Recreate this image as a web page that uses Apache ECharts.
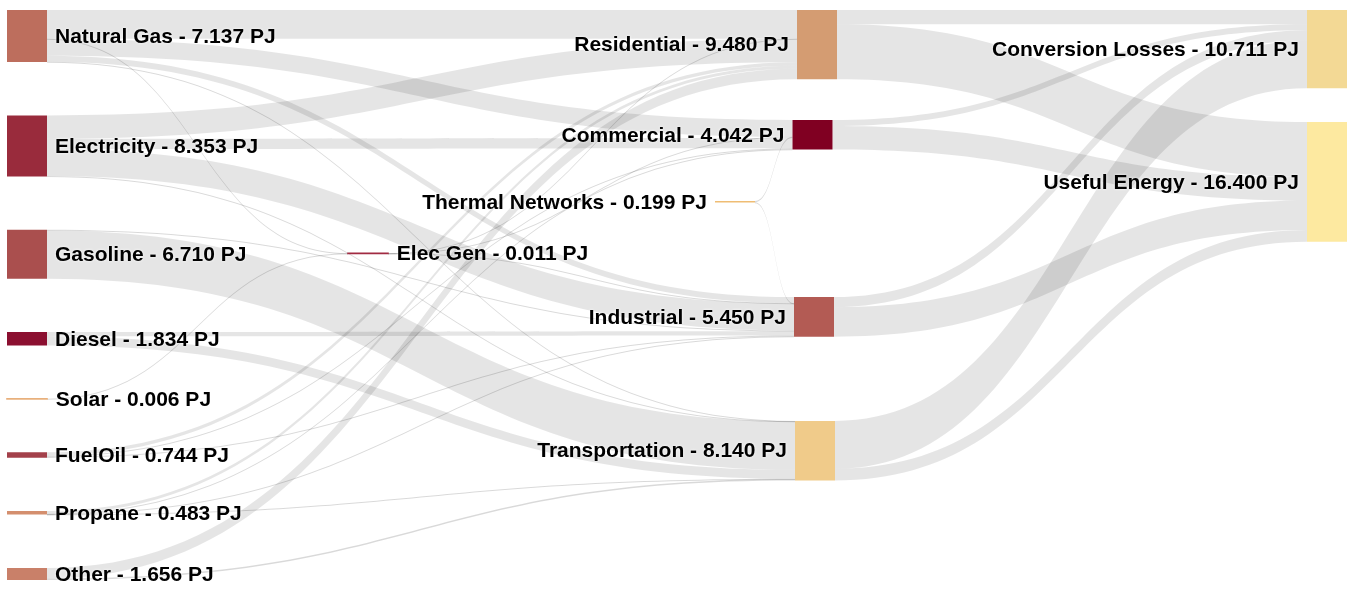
<!DOCTYPE html>
<html>
<head>
<meta charset="utf-8">
<script src="https://cdn.jsdelivr.net/npm/echarts/dist/echarts.min.js"></script>
<style>
html,body{margin:0;padding:0;background:#ffffff;}
#chart{width:1348px;height:589px;}
</style>
</head>
<body>
<div id="chart"></div>
<script>
// ---------------- data ----------------
const unit = 'PJ';
const nodeNames = ['Natural Gas', 'Electricity', 'Gasoline', 'Diesel', 'Solar', 'FuelOil', 'Propane', 'Other',
  'Elec Gen', 'Thermal Networks',
  'Residential', 'Commercial', 'Industrial', 'Transportation',
  'Conversion Losses', 'Useful Energy'];
const nodeValues = [7.137, 8.353, 6.710, 1.834, 0.006, 0.744, 0.483, 1.656,
  0.011, 0.199,
  9.480, 4.042, 5.450, 8.140,
  10.711, 16.400];

const linkSources = [
  'Natural Gas', 'Natural Gas', 'Natural Gas', 'Natural Gas', 'Natural Gas',
  'Electricity', 'Electricity', 'Electricity', 'Electricity',
  'Gasoline', 'Gasoline',
  'Diesel', 'Diesel',
  'Solar',
  'FuelOil', 'FuelOil', 'FuelOil',
  'Propane', 'Propane', 'Propane', 'Propane',
  'Other', 'Other',
  'Elec Gen', 'Elec Gen', 'Elec Gen',
  'Thermal Networks', 'Thermal Networks',
  'Residential', 'Residential',
  'Commercial', 'Commercial',
  'Industrial', 'Industrial',
  'Transportation', 'Transportation'];
const linkTargets = [
  'Residential', 'Commercial', 'Industrial', 'Transportation', 'Elec Gen',
  'Residential', 'Commercial', 'Industrial', 'Transportation',
  'Industrial', 'Transportation',
  'Industrial', 'Transportation',
  'Elec Gen',
  'Residential', 'Commercial', 'Industrial',
  'Residential', 'Commercial', 'Industrial', 'Transportation',
  'Residential', 'Transportation',
  'Residential', 'Commercial', 'Industrial',
  'Commercial', 'Industrial',
  'Conversion Losses', 'Useful Energy',
  'Conversion Losses', 'Useful Energy',
  'Conversion Losses', 'Useful Energy',
  'Conversion Losses', 'Useful Energy'];
const linkValues = [
  3.950, 2.300, 0.850, 0.032, 0.005,
  3.200, 1.400, 3.700, 0.053,
  0.100, 6.610,
  0.600, 1.234,
  0.006,
  0.494, 0.150, 0.100,
  0.385, 0.027, 0.060, 0.011,
  1.456, 0.200,
  0.005, 0.002, 0.004,
  0.163, 0.036,
  1.950, 7.530,
  0.811, 3.231,
  1.400, 4.050,
  6.550, 1.590];

// ---------------- styles / layout (kept apart from the data) ----------------
const nodeColors = ['#bd6e5d', '#992b3c', '#aa4f4e', '#8b0f30', '#e8b07c', '#a3404a', '#d48f6e', '#c98069',
  '#a12b42', '#efbd74',
  '#d49c72', '#800022', '#b35b54', '#f0cb8a',
  '#f3d995', '#fde9a0'];
const nodeDepth = [0, 0, 0, 0, 0, 0, 0, 0, 1, 2, 3, 3, 3, 3, 4, 4];
const labelLeft = ['Thermal Networks', 'Residential', 'Commercial', 'Industrial', 'Transportation',
  'Conversion Losses', 'Useful Energy'];
// placement of the nodes that the original chart positioned by hand (pixel top-left)
const nodePlacement = {
  'Elec Gen': [348, 253.3],
  'Thermal Networks': [715, 201],
  'Residential': [797, 10],
  'Commercial': [792.5, 120],
  'Industrial': [794, 297],
  'Transportation': [795, 421],
  'Conversion Losses': [1307, 10],
  'Useful Energy': [1307, 122]
};
const LEFT = 7, TOP = 10, RIGHT = 1, BOTTOM = 9;
const CW = 1348, CH = 589;
const LW = CW - LEFT - RIGHT, LH = CH - TOP - BOTTOM;

// ---------------- build option ----------------
const nodes = nodeNames.map(function (name, i) {
  const item = {
    name: name,
    value: nodeValues[i],
    depth: nodeDepth[i],
    itemStyle: {
      color: nodeColors[i],
      borderColor: nodeColors[i],
      borderWidth: nodeValues[i] < 0.1 ? 1.6 : 0
    },
    label: { position: labelLeft.indexOf(name) >= 0 ? 'left' : 'right' }
  };
  const p = nodePlacement[name];
  if (p) {
    item.localX = (p[0] - LEFT) / LW;
    item.localY = (p[1] - TOP) / LH;
  }
  return item;
});

const links = linkValues.map(function (v, i) {
  const l = { source: linkSources[i], target: linkTargets[i], value: v };
  if (v < 0.25) {
    l.lineStyle = { opacity: 0.15 };
  }
  return l;
});

const chart = echarts.init(document.getElementById('chart'), null, { renderer: 'canvas' });
chart.setOption({
  animation: false,
  backgroundColor: '#ffffff',
  series: [{
    type: 'sankey',
    left: LEFT, top: TOP, right: RIGHT, bottom: BOTTOM,
    nodeWidth: 40,
    nodeGap: 53.36,
    layoutIterations: 0,
    nodeAlign: 'justify',
    draggable: false,
    emphasis: { disabled: true },
    data: nodes,
    links: links,
    lineStyle: { color: '#000000', opacity: 0.1, curveness: 0.5 },
    label: {
      show: true,
      distance: 8,
      offset: [0, 1],
      color: '#000000',
      fontFamily: '"Liberation Sans", Arial, sans-serif',
      fontWeight: 'bold',
      fontSize: 21,
      textShadowColor: '#ffffff',
      textShadowBlur: 3,
      formatter: function (p) {
        return p.name + ' - ' + Number(p.value).toFixed(3) + ' ' + unit;
      }
    }
  }]
});
</script>
</body>
</html>
